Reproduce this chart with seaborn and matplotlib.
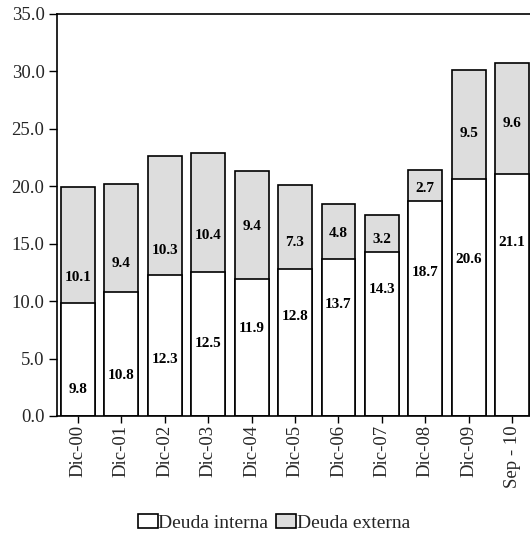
import matplotlib
matplotlib.use("Agg")
import matplotlib.pyplot as plt
import seaborn as sns
import pandas as pd
from matplotlib.patches import Patch

# Data (billions)
periodos = ["Dic-00", "Dic-01", "Dic-02", "Dic-03", "Dic-04", "Dic-05",
            "Dic-06", "Dic-07", "Dic-08", "Dic-09", "Sep - 10"]
deuda_interna = [9.8, 10.8, 12.3, 12.5, 11.9, 12.8, 13.7, 14.3, 18.7, 20.6, 21.1]
deuda_externa = [10.1, 9.4, 10.3, 10.4, 9.4, 7.3, 4.8, 3.2, 2.7, 9.5, 9.6]
y_ticks = [0, 5, 10, 15, 20, 25, 30, 35]

# Heights at which the value labels sit (in axis units)
interna_label_y = [2.3, 3.5, 4.9, 6.3, 7.6, 8.7, 9.7, 11.0, 12.5, 13.6, 15.1]
externa_label_y = [12.1, 13.3, 14.4, 15.7, 16.5, 15.1, 15.9, 15.4, 19.8, 24.6, 25.5]

df = pd.DataFrame({
    "periodo": periodos,
    "interna": deuda_interna,
    "externa": deuda_externa,
})
df["total"] = df["interna"] + df["externa"]

sns.set_theme(style="white")
plt.rcParams["font.family"] = ["Liberation Serif", "DejaVu Serif"]

fig = plt.figure(figsize=(5.30, 5.37), dpi=100)
ax = fig.add_axes([57 / 530, 1 - 416 / 537, 1 - 57 / 530, (416 - 14) / 537])

gris = "#DDDDDD"
sns.barplot(data=df, x="periodo", y="total", color=gris, saturation=1,
            width=0.78, edgecolor="black", linewidth=1.2, ax=ax)
sns.barplot(data=df, x="periodo", y="interna", color="white", saturation=1,
            width=0.78, edgecolor="black", linewidth=1.2, ax=ax)

for i in range(len(periodos)):
    ax.text(i, interna_label_y[i], f"{deuda_interna[i]:.1f}", ha="center",
            va="center", fontsize=11, fontweight="bold", color="black")
    ax.text(i, externa_label_y[i], f"{deuda_externa[i]:.1f}", ha="center",
            va="center", fontsize=11, fontweight="bold", color="black")

ax.set_xlim(-0.48, 10.41)
ax.set_ylim(0, 35)
ax.set_yticks(y_ticks)
ax.set_yticklabels([f"{v:.1f}" for v in y_ticks], fontsize=13.5)
ax.set_xticks(range(len(periodos)))
ax.set_xticklabels(periodos, rotation=90, fontsize=13.5)
ax.set_xlabel("")
ax.set_ylabel("")

for side in ["left", "top", "bottom"]:
    ax.spines[side].set_visible(True)
    ax.spines[side].set_color("black")
    ax.spines[side].set_linewidth(1.2)
ax.spines["right"].set_visible(False)

ax.tick_params(axis="y", which="major", direction="out", length=6,
               width=1.0, color="black", pad=3, left=True)
ax.tick_params(axis="x", which="major", direction="out", length=5,
               width=1.0, color="black", pad=1.5, bottom=True)

handles = [
    Patch(facecolor="white", edgecolor="black", linewidth=1.2, label="Deuda interna"),
    Patch(facecolor=gris, edgecolor="black", linewidth=1.2, label="Deuda externa"),
]
fig.legend(handles=handles, loc="center", bbox_to_anchor=(274 / 530, 1 - 523 / 537),
           ncol=2, frameon=False, fontsize=14, handlelength=1.0, handleheight=0.7,
           handletextpad=0.05, columnspacing=0.4, borderaxespad=0)

fig.savefig("out.png", dpi=100)
